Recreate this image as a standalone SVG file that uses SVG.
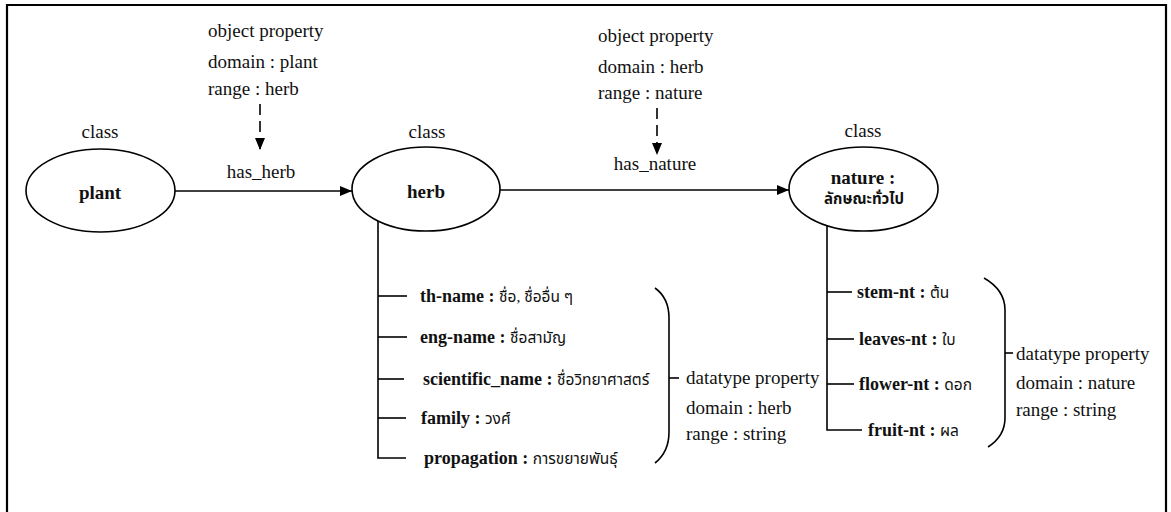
<svg xmlns="http://www.w3.org/2000/svg" width="1171" height="512" viewBox="0 0 1171 512">
  <defs>
    <marker id="arrow" viewBox="0 0 12 10" refX="12" refY="5" markerWidth="12" markerHeight="10" markerUnits="userSpaceOnUse" orient="auto">
      <path d="M0,0 L12,5 L0,10 Z" fill="#000"/>
    </marker>
    <style>
      text { font-family: "Liberation Serif", "Noto Sans Thai", "Noto Serif Thai", "DejaVu Serif", serif; fill: #111; }
      .lbl { font-size: 19px; }
      .b { font-size: 19px; font-weight: bold; }
      .prop { font-size: 18px; font-weight: bold; }
      .th { font-size: 15.5px; font-weight: normal; }
      .node { fill: #fff; stroke: #000; stroke-width: 1.6; }
      .line { fill: none; stroke: #000; stroke-width: 1.6; }
      .dash { fill: none; stroke: #000; stroke-width: 1.6; stroke-dasharray: 11 6; }
      .mid { text-anchor: middle; }
    </style>
  </defs>

  <rect width="1171" height="512" fill="#fff"/>
  <!-- frame (bottom edge runs off the page) -->
  <path d="M7,514 V5 H1166 V514" fill="none" stroke="#000" stroke-width="2.2"/>

  <!-- connectors -->
  <g id="connectors">
    <line class="line" x1="175" y1="191" x2="352" y2="191" marker-end="url(#arrow)"/>
    <line class="line" x1="500" y1="190" x2="789" y2="190" marker-end="url(#arrow)"/>
    <line class="dash" x1="260" y1="104" x2="260" y2="150" marker-end="url(#arrow)"/>
    <line class="dash" x1="657" y1="108" x2="657" y2="155" marker-end="url(#arrow)"/>
    <!-- herb datatype tree -->
    <path class="line" d="M378,221 V458 H406"/>
    <line class="line" x1="378" y1="296" x2="407" y2="296"/>
    <line class="line" x1="378" y1="337" x2="407" y2="337"/>
    <line class="line" x1="378" y1="379" x2="404" y2="379"/>
    <line class="line" x1="378" y1="418" x2="406" y2="418"/>
    <!-- nature datatype tree -->
    <path class="line" d="M827,225 V430 H862"/>
    <line class="line" x1="827" y1="292" x2="852" y2="292"/>
    <line class="line" x1="827" y1="339" x2="854" y2="339"/>
    <line class="line" x1="827" y1="384" x2="854" y2="384"/>
    <!-- braces -->
    <path class="line" d="M655,288 Q669,298 669,318 V432 Q669,452 655,463"/>
    <line class="line" x1="669" y1="378" x2="679" y2="378"/>
    <path class="line" d="M984,278 Q1005,290 1005,310 V418 Q1005,436 988,447"/>
    <line class="line" x1="1005" y1="353" x2="1013" y2="353"/>
  </g>

  <!-- object property notes -->
  <g id="op-has-herb">
    <text class="lbl" x="208" y="37">object property</text>
    <text class="lbl" x="208" y="68">domain : plant</text>
    <text class="lbl" x="208" y="95">range : herb</text>
    <text class="lbl mid" x="261" y="178">has_herb</text>
  </g>
  <g id="op-has-nature">
    <text class="lbl" x="598" y="42">object property</text>
    <text class="lbl" x="598" y="73">domain : herb</text>
    <text class="lbl" x="598" y="99">range : nature</text>
    <text class="lbl mid" x="655" y="170">has_nature</text>
  </g>

  <!-- classes -->
  <g id="plant">
    <text class="lbl mid" x="100" y="138">class</text>
    <ellipse class="node" cx="100.5" cy="190.5" rx="74.5" ry="41.5"/>
    <text class="b mid" x="100" y="199">plant</text>
  </g>
  <g id="herb">
    <text class="lbl mid" x="427" y="138">class</text>
    <ellipse class="node" cx="426" cy="189" rx="74" ry="42"/>
    <text class="b mid" x="426" y="198">herb</text>
  </g>
  <g id="nature">
    <text class="lbl mid" x="863" y="137">class</text>
    <ellipse class="node" cx="863.5" cy="189" rx="74.5" ry="42"/>
    <text class="b mid" x="863" y="184">nature :</text>
    <text class="mid" x="864" y="204" font-size="15" font-weight="bold">ลักษณะทั่วไป</text>
  </g>

  <!-- herb datatype properties -->
  <g id="herb-properties">
    <text class="prop" x="420" y="302">th-name : <tspan class="th">ชื่อ, ชื่ออื่น ๆ</tspan></text>
    <text class="prop" x="420" y="343">eng-name : <tspan class="th">ชื่อสามัญ</tspan></text>
    <text class="prop" x="423" y="385">scientific_name : <tspan class="th">ชื่อวิทยาศาสตร์</tspan></text>
    <text class="prop" x="421" y="424">family : <tspan class="th">วงศ์</tspan></text>
    <text class="prop" x="424" y="464">propagation : <tspan class="th">การขยายพันธุ์</tspan></text>
  </g>
  <g id="herb-datatype-note">
    <text class="lbl" x="686" y="384">datatype property</text>
    <text class="lbl" x="686" y="414">domain : herb</text>
    <text class="lbl" x="686" y="440">range : string</text>
  </g>

  <!-- nature datatype properties -->
  <g id="nature-properties">
    <text class="prop" x="857" y="298">stem-nt : <tspan class="th">ต้น</tspan></text>
    <text class="prop" x="859" y="345">leaves-nt : <tspan class="th">ใบ</tspan></text>
    <text class="prop" x="859" y="390">flower-nt : <tspan class="th">ดอก</tspan></text>
    <text class="prop" x="868" y="436">fruit-nt : <tspan class="th">ผล</tspan></text>
  </g>
  <g id="nature-datatype-note">
    <text class="lbl" x="1016" y="360">datatype property</text>
    <text class="lbl" x="1016" y="389">domain : nature</text>
    <text class="lbl" x="1016" y="416">range : string</text>
  </g>
</svg>
